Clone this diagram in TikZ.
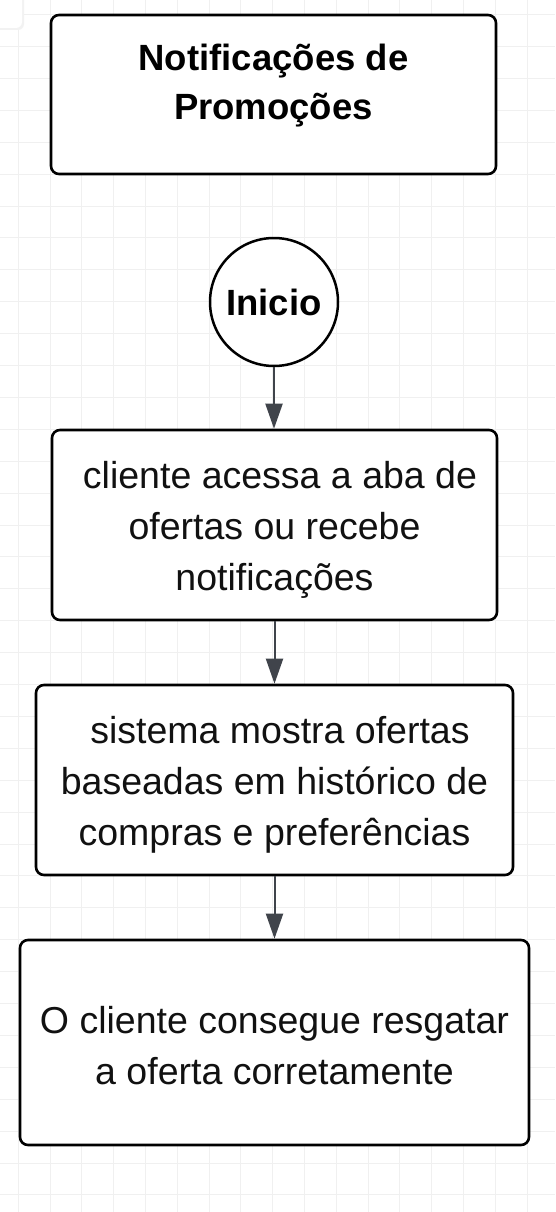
\documentclass[tikz,border=0pt]{standalone}
\usepackage{fontspec}
\setmainfont{Liberation Sans}
\usetikzlibrary{arrows.meta}
\definecolor{gridc}{HTML}{F0F0F0}
\definecolor{arrowc}{HTML}{40444B}
\definecolor{textc}{HTML}{111111}
\begin{document}
\begin{tikzpicture}[x=1pt,y=-1pt,
  box/.style={draw=black, line width=2.6pt, rounded corners=8pt, fill=white, inner sep=0pt},
  boxtxt/.style={align=center, inner sep=0pt, text=textc, font=\fontsize{37.5}{51}\selectfont},
  startc/.style={draw=black, circle, line width=2.5pt, fill=white, inner sep=0pt,
    minimum size=128pt, font=\bfseries\fontsize{36.5}{49}\selectfont},
  titletxt/.style={align=center, inner sep=0pt, font=\bfseries\fontsize{36.5}{49}\selectfont},
  conn/.style={draw=arrowc, line width=2pt, -{Triangle[length=25pt,width=17pt]}},
  gridline/.style={draw=gridc, line width=1pt}
]
\useasboundingbox (0,0) rectangle (555,1212);
\fill[white] (0,0) rectangle (555,1212);
% background grid
\foreach \i in {0,...,17} \draw[gridline] ({18.3+31.8*\i},0) -- ++(0,1212);
\foreach \j in {0,...,37} \draw[gridline] (0,{14.6+31.9*\j}) -- ++(555,0);
% faint panel at top-left corner
\fill[gray!10, rounded corners=6pt] (-10,-10) rectangle (24,30);
\fill[white, rounded corners=6pt] (-10,-10) rectangle (22,28);

% title
\node[box, minimum width=445pt, minimum height=159pt] (title) at (273.5,94.5) {};
\node[titletxt] (titletext) at (273.5,85.5) {Notificações de\\Promoções};

% start
\node[startc] (start) at (274,302) {Inicio};

% steps
\node[box, minimum width=445pt, minimum height=190pt] (s1) at (274.5,525) {};
\node[boxtxt] (s1text) at (274.5,529.5)
  {\hspace*{11pt}cliente acessa a aba de\\ofertas ou recebe\\notificações};
\node[box, minimum width=477pt, minimum height=190pt] (s2) at (274.5,780) {};
\node[boxtxt] (s2text) at (274.5,784.5)
  {\hspace*{11pt}sistema mostra ofertas\\baseadas em histórico de\\compras e preferências};
\node[box, minimum width=509pt, minimum height=205pt] (s3) at (274.5,1042.5) {};
\node[boxtxt] (s3text) at (274.5,1045.5)
  {O cliente consegue resgatar\\a oferta corretamente};

% connectors
\draw[conn] (start.south) -- (start.south |- s1.north);
\draw[conn] (s1.south) -- (s2.north);
\draw[conn] (s2.south) -- (s3.north);
\end{tikzpicture}
\end{document}
